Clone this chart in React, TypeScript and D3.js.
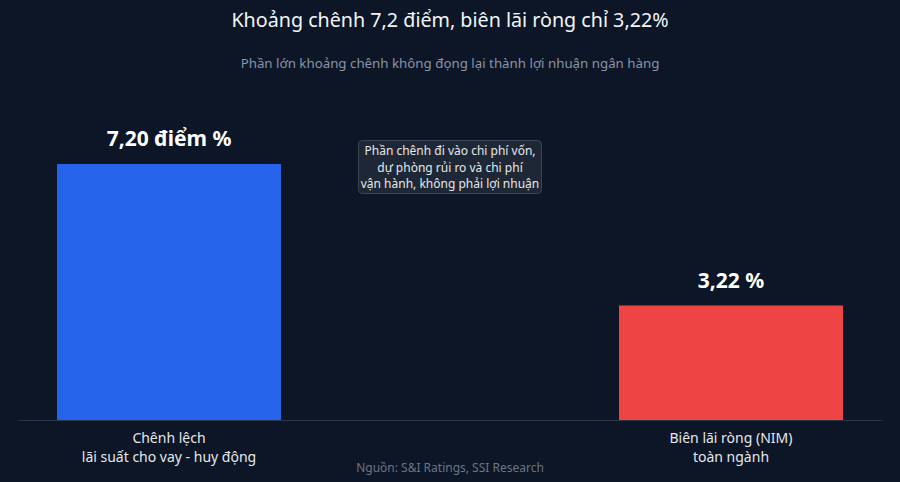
import React from "react";
import * as d3 from "d3";

const categories = ["spread", "nim"];
const values = [7.2, 3.22];
const valueLabels = ["7,20 điểm %", "3,22 %"];
const categoryLines = [
  ["Chênh lệch", "lãi suất cho vay - huy động"],
  ["Biên lãi ròng (NIM)", "toàn ngành"],
];
const barColors = ["#2563eb", "#ef4444"];
const title = "Khoảng chênh 7,2 điểm, biên lãi ròng chỉ 3,22%";
const subtitle = "Phần lớn khoảng chênh không đọng lại thành lợi nhuận ngân hàng";
const noteLines = [
  "Phần chênh đi vào chi phí vốn,",
  "dự phòng rủi ro và chi phí",
  "vận hành, không phải lợi nhuận",
];
const source = "Nguồn: S&I Ratings, SSI Research";

const W = 900;
const H = 482;
const FONT = "'Noto Sans', 'DejaVu Sans', sans-serif";

export default function App() {
  const x = d3
    .scaleBand<string>()
    .domain(categories)
    .range([57, 843])
    .paddingInner(0.6014)
    .paddingOuter(0);
  const baseY = 420;
  const y = d3.scaleLinear().domain([0, 7.2]).range([baseY, 164]);

  return (
    <div style={{ position: "fixed", left: 0, top: 0, width: W, height: H, background: "#0c1626" }}>
      <svg width={W} height={H} style={{ display: "block", fontFamily: FONT }}>
        <rect x={0} y={0} width={W} height={H} fill="#0c1626" />
        <text x={W / 2} y={27} textAnchor="middle" fill="#f1f5f9" fontSize={19.7}>
          {title}
        </text>
        <text x={W / 2} y={68} textAnchor="middle" fill="#8a94a6" fontSize={13.3}>
          {subtitle}
        </text>
        <line x1={18} x2={882} y1={baseY + 0.5} y2={baseY + 0.5} stroke="#2a3547" strokeWidth={1} />
        {categories.map((c, i) => {
          const x0 = x(c) as number;
          const bw = x.bandwidth();
          const cx = x0 + bw / 2;
          return (
            <g key={c}>
              <rect x={x0} y={y(values[i])} width={bw} height={baseY - y(values[i])} fill={barColors[i]} />
              <text
                x={cx}
                y={y(values[i]) - 18}
                textAnchor="middle"
                fill="#ffffff"
                fontWeight="bold"
                fontSize={21}
              >
                {valueLabels[i]}
              </text>
              {categoryLines[i].map((ln, j) => (
                <text key={j} x={cx} y={443 + j * 19} textAnchor="middle" fill="#e5e7eb" fontSize={14}>
                  {ln}
                </text>
              ))}
            </g>
          );
        })}
        <rect x={358.5} y={140.5} width={183} height={53} rx={4} fill="#1e2735" stroke="#3a4455" strokeWidth={1} />
        {noteLines.map((ln, j) => (
          <text key={j} x={450} y={155 + j * 16.5} textAnchor="middle" fill="#e5e7eb" fontSize={12}>
            {ln}
          </text>
        ))}
        <text x={W / 2} y={472} textAnchor="middle" fill="#6b7585" fontSize={12}>
          {source}
        </text>
      </svg>
    </div>
  );
}
